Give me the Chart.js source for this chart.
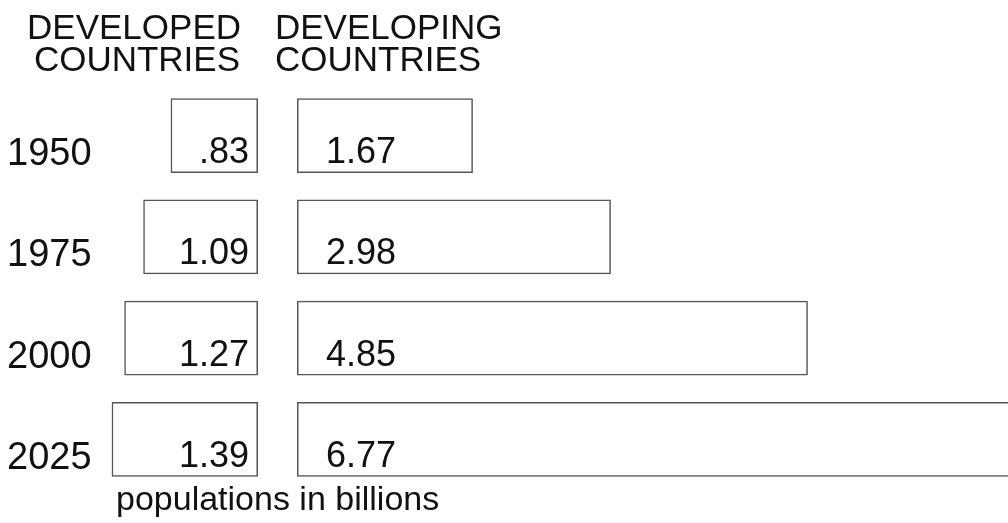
<!DOCTYPE html>
<html>
<head>
<meta charset="utf-8">
<script src="https://cdn.jsdelivr.net/npm/chart.js@4"></script>
<style>
  html, body { margin: 0; padding: 0; background: #fff; }
  #wrap { position: relative; width: 1008px; height: 523px; overflow: hidden; }
  #left { position: absolute; left: 0; top: 0; }
  #right { position: absolute; left: 297px; top: 0; }
</style>
</head>
<body>
<div id="wrap">
  <canvas id="left" width="1008" height="523"></canvas>
  <canvas id="right" width="711" height="523"></canvas>
</div>
<script>
// data (billions)
const years = ['1950', '1975', '2000', '2025'];
const developed = [0.83, 1.09, 1.27, 1.39];
const developing = [1.67, 2.98, 4.85, 6.77];
const developedLabels = ['.83', '1.09', '1.27', '1.39'];
const developingLabels = ['1.67', '2.98', '4.85', '6.77'];

const ink = '#111';
const boxColor = '#555';
const font = 'Liberation Sans, Arial, Helvetica, sans-serif';

function barDataset(values) {
    return {
        data: values,
        backgroundColor: 'rgba(0,0,0,0)',
        borderColor: boxColor,
        borderWidth: 1.5,
        borderSkipped: false,
        barPercentage: 0.74,
        categoryPercentage: 1
    };
}

function baseOptions(xMax, reverse, padding) {
    return {
        indexAxis: 'y',
        responsive: false,
        animation: false,
        layout: { padding: padding },
        plugins: { legend: { display: false }, tooltip: { enabled: false } },
        scales: {
            x: { display: false, min: 0, max: xMax, reverse: reverse },
            y: { display: false }
        }
    };
}

// left chart: developed countries, bars grow leftwards, also carries the titles
const leftText = {
    id: 'leftText',
    afterDraw(chart) {
        const ctx = chart.ctx;
        const bars = chart.getDatasetMeta(0).data;
        ctx.save();
        ctx.fillStyle = ink;
        ctx.textBaseline = 'alphabetic';

        ctx.font = '35px ' + font;
        ctx.textAlign = 'right';
        ctx.fillText('DEVELOPED', 241, 39);
        ctx.fillText('COUNTRIES', 240, 71);
        ctx.textAlign = 'left';
        ctx.fillText('DEVELOPING', 275, 39);
        ctx.fillText('COUNTRIES', 275, 71);

        bars.forEach((bar, i) => {
            const bottom = bar.y + bar.height / 2;
            ctx.font = '38px ' + font;
            ctx.textAlign = 'left';
            ctx.fillText(years[i], 7, bottom - 8);
            ctx.font = '36px ' + font;
            ctx.textAlign = 'right';
            ctx.fillText(developedLabels[i], bar.base - 9, bottom - 10);
        });

        ctx.font = '34px ' + font;
        ctx.textAlign = 'left';
        ctx.fillText('populations in billions', 116, 510);
        ctx.restore();
    }
};

new Chart(document.getElementById('left').getContext('2d'), {
    type: 'bar',
    data: { labels: years, datasets: [barDataset(developed)] },
    options: baseOptions(2.45, true, { left: 0, right: 750, top: 85, bottom: 33 }),
    plugins: [leftText]
});

// right chart: developing countries, bars grow rightwards
const rightText = {
    id: 'rightText',
    afterDraw(chart) {
        const ctx = chart.ctx;
        const bars = chart.getDatasetMeta(0).data;
        ctx.save();
        ctx.fillStyle = ink;
        ctx.font = '36px ' + font;
        ctx.textAlign = 'left';
        bars.forEach((bar, i) => {
            const bottom = bar.y + bar.height / 2;
            ctx.fillText(developingLabels[i], bar.base + 29, bottom - 10);
        });
        ctx.restore();
    }
};

new Chart(document.getElementById('right').getContext('2d'), {
    type: 'bar',
    data: { labels: years, datasets: [barDataset(developing)] },
    options: baseOptions(6.75, false, { left: 0, right: 0, top: 85, bottom: 33 }),
    plugins: [rightText]
});
</script>
</body>
</html>
